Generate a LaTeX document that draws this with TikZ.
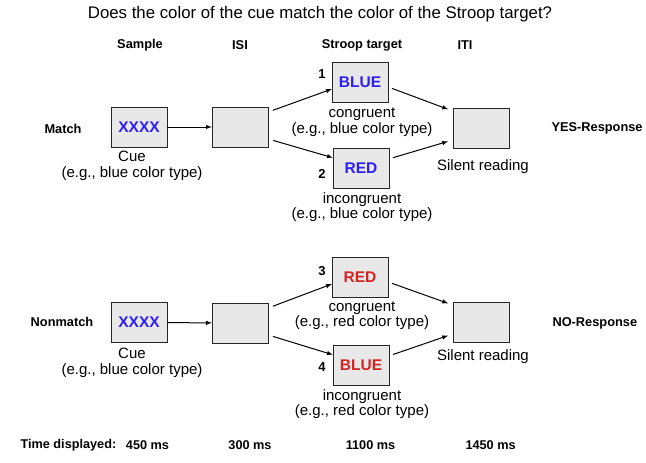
\documentclass[tikz,border=0pt]{standalone}
\usepackage{fontspec}
\setmainfont{Liberation Sans}
\usetikzlibrary{positioning}
\tikzset{>=latex}
\definecolor{cueblue}{RGB}{45,30,250}
\definecolor{cuered}{RGB}{212,35,35}
\definecolor{boxgray}{RGB}{232,232,232}
\tikzset{
  screen/.style={draw=black!85, fill=boxgray, minimum width=56pt,
    minimum height=40pt, inner sep=0pt, font=\fontsize{15.5}{16}\selectfont\bfseries},
  heading/.style={font=\fontsize{12.8}{13}\selectfont\bfseries},
  timing/.style={font=\fontsize{12.7}{13}\selectfont\bfseries},
  caption/.style={font=\fontsize{15}{15.5}\selectfont, align=center},
  trialno/.style={font=\fontsize{13}{13}\selectfont\bfseries},
  flow/.style={->, line width=1pt},
}

\begin{document}
\begin{tikzpicture}[x=1pt, y=-1pt]
  \useasboundingbox (0,0) rectangle (646,463);
  % title and column headings
  \node[font=\fontsize{16.8}{17}\selectfont] (title) at (320,14) {Does the color of the cue match the color of the Stroop target?};
  \node[heading] (hsample) at (140,45) {Sample};
  \node[heading] (hisi) at (240,45) {ISI};
  \node[heading] (hstroop) at (362,45) {Stroop target};
  \node[heading] (hiti) at (465,45) {ITI};

  % match trials
  \node[heading] (match) at (63,129) {Match};
  \node[screen, text=cueblue] (sample1) at (139,127) {XXXX};
  \node[caption] (cue1) at (132,166) {Cue\\(e.g., blue color type)};
  \node[screen] (isi1) at (240,127) {};
  \node[screen, text=cueblue] (target1) at (360,82) {BLUE};
  \node[screen, text=cueblue] (target2) at (361,168) {RED};
  \node[trialno] (no1) at (322,74) {1};
  \node[trialno] (no2) at (322,174) {2};
  \node[caption] (cap1) at (362,122) {congruent\\(e.g., blue color type)};
  \node[caption] (cap2) at (362,207) {incongruent\\(e.g., blue color type)};
  \node[screen] (iti1) at (481,128) {};
  \node[caption] (read1) at (483,167) {Silent reading};
  \node[heading, anchor=west] (yes) at (548,128) {YES-Response};

  \draw[flow] (sample1) -- (isi1);
  \draw[flow, shorten <=5pt] (isi1.28) -- (target1.194);
  \draw[flow, shorten <=5pt] (isi1.-23) -- (target2.160);
  \draw[flow, shorten <=4pt, shorten >=5pt] (target1.-10) -- (iti1.149);
  \draw[flow, shorten <=4pt, shorten >=5pt] (target2.18) -- (iti1.203);

  % nonmatch trials
  \node[heading] (nonmatch) at (62,322) {Nonmatch};
  \node[screen, text=cueblue] (sample2) at (139,322.5) {XXXX};
  \node[caption] (cue2) at (132,363) {Cue\\(e.g., blue color type)};
  \node[screen] (isi2) at (240,323) {};
  \node[screen, text=cuered] (target3) at (360,277) {RED};
  \node[screen, text=cuered] (target4) at (361,365) {BLUE};
  \node[trialno] (no3) at (322,271) {3};
  \node[trialno] (no4) at (322,367) {4};
  \node[caption] (cap3) at (362,315.5) {congruent\\(e.g., red color type)};
  \node[caption] (cap4) at (362,404) {incongruent\\(e.g., red color type)};
  \node[screen] (iti2) at (481,322) {};
  \node[caption] (read2) at (483,357) {Silent reading};
  \node[heading, anchor=west] (no) at (549,323) {NO-Response};

  \draw[flow] (sample2) -- (isi2);
  \draw[flow, shorten <=5pt] (isi2.28) -- (target3.194);
  \draw[flow, shorten <=5pt] (isi2.-23) -- (target4.160);
  \draw[flow, shorten <=4pt, shorten >=5pt] (target3.-10) -- (iti2.149);
  \draw[flow, shorten <=4pt, shorten >=5pt] (target4.18) -- (iti2.203);

  % durations
  \node[timing, anchor=west] (tlabel) at (17,445) {Time displayed:};
  \node[timing] (t1) at (147.5,445) {450 ms};
  \node[timing] (t2) at (250,445) {300 ms};
  \node[timing] (t3) at (370.5,445) {1100 ms};
  \node[timing, anchor=west] (t4) at (462,445) {1450 ms};
\end{tikzpicture}
\end{document}
